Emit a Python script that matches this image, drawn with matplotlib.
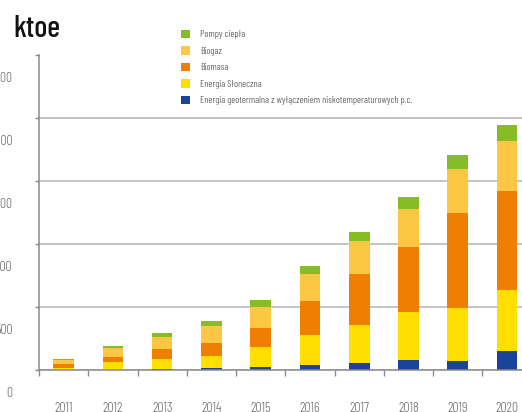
import matplotlib
matplotlib.use('Agg')
import matplotlib.pyplot as plt
import matplotlib.transforms as mtransforms
from matplotlib.patches import Patch
import numpy as np

plt.rcParams['font.family'] = ['Barlow Condensed', 'DejaVu Sans']

# dane w ktoe
lata = ['2011', '2012', '2013', '2014', '2015', '2016', '2017', '2018', '2019', '2020']
geotermalna = [0, 1, 8, 16, 23, 37, 56, 79, 71, 151]
sloneczna = [15, 62, 79, 95, 160, 238, 301, 381, 421, 484]
biomasa = [33, 41, 80, 103, 150, 270, 405, 516, 754, 786]
biogaz = [31, 72, 95, 135, 167, 214, 262, 302, 349, 397]
pompy = [8, 15, 32, 40, 56, 64, 71, 95, 111, 127]

serie = [
    ('Energia geotermalna z wyłączeniem niskotemperaturowych p.c.', geotermalna, '#1a449a'),
    ('Energia Słoneczna', sloneczna, '#ffde00'),
    ('Biomasa', biomasa, '#ef7f01'),
    ('Biogaz', biogaz, '#fdc745'),
    ('Pompy ciepła', pompy, '#86bc25'),
]

fig = plt.figure(figsize=(5.22, 4.12), dpi=100)
ax = fig.add_axes([39 / 522, 42 / 412, 492.6 / 522, 315 / 412])

x = np.arange(len(lata))
dol = np.zeros(len(lata))
for nazwa, wartosci, kolor in serie:
    ax.bar(x, wartosci, 0.42, bottom=dol, color=kolor, zorder=3, linewidth=0)
    dol += np.array(wartosci)

ax.set_xlim(-0.5, len(lata) - 0.5)
ax.set_ylim(0, 2500)

# osie i siatka
for s in ['top', 'right']:
    ax.spines[s].set_visible(False)
ax.spines['left'].set_color('#8a8a8a')
ax.spines['bottom'].set_color('#8a8a8a')
ax.spines['left'].set_linewidth(1.1)
ax.spines['bottom'].set_linewidth(1.1)
ax.spines['bottom'].set_zorder(4)

ax.set_yticks(np.arange(0, 2501, 500))
ax.set_yticklabels([str(v) for v in range(0, 2501, 500)])
ax.yaxis.grid(True, color='#b4b4b4', linewidth=1.1, zorder=1)
ax.get_ygridlines()[-1].set_visible(False)
ax.tick_params(axis='y', length=3, width=1, color='#8a8a8a', pad=16,
               labelsize=10, labelcolor='#6e6e6e')
przesun = mtransforms.ScaledTranslation(0, -22 / 100, fig.dpi_scale_trans)
for lab in ax.get_yticklabels():
    lab.set_fontweight(300)
    lab.set_transform(lab.get_transform() + przesun)

ax.set_xticks(x)
ax.set_xticklabels(lata, fontweight=300)
ax.set_xticks(np.arange(-0.5, len(lata), 1), minor=True)
ax.tick_params(axis='x', which='major', length=0, pad=23, labelsize=10, labelcolor='#6e6e6e')
ax.tick_params(axis='x', which='minor', length=4, width=1, color='#8a8a8a')

# tytul
fig.text(13 / 522, (412 - 37) / 412, 'ktoe', fontsize=22, fontweight=500,
         color='#111111', va='baseline', ha='left')

# legenda
uchwyty = [Patch(facecolor=k, edgecolor='none', label=n) for n, _, k in serie][::-1]
fs = 7
fig.legend(handles=uchwyty, loc='upper left',
           bbox_to_anchor=(181 / 522, (412 - 30) / 412),
           frameon=False, fontsize=fs, labelcolor='#666666',
           handlelength=0.93, handleheight=0.93, handletextpad=1.0,
           labelspacing=0.72, borderpad=0, borderaxespad=0)

fig.savefig('out.png', dpi=100)
